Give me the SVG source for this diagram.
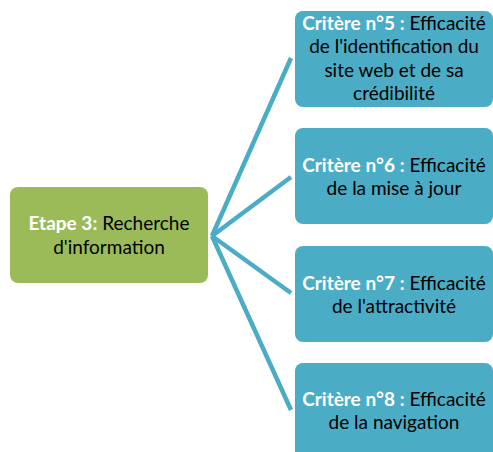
<svg xmlns="http://www.w3.org/2000/svg" width="493" height="452" viewBox="0 0 493 452">
<style>
.blue{fill:#4BACC6;}
.green{fill:#9BBB59;}
.conn{stroke:#4BACC6;stroke-width:4.5;fill:none;}
text{font-family:Lato,"Liberation Sans",Arial,sans-serif;font-size:19px;fill:#000;text-anchor:middle;}
.b{font-weight:bold;fill:#fff;}
</style>
<rect width="493" height="452" fill="#fff"/>
<g id="connectors">
<path class="conn" d="M212,236 L291,58"/>
<path class="conn" d="M212,236 L291,177"/>
<path class="conn" d="M212,236 L291,293"/>
<path class="conn" d="M212,236 L291,410"/>
</g>
<g id="etape3">
<rect class="green" x="10" y="187" width="198" height="96" rx="8"/>
<text x="109" y="230"><tspan class="b">Etape 3:</tspan> Recherche</text>
<text x="109" y="254">d'information</text>
</g>
<g id="critere5">
<rect class="blue" x="295" y="11" width="198" height="96" rx="8"/>
<text x="394" y="30"><tspan class="b">Critère n°5 :</tspan> Efficacité</text>
<text x="394" y="53">de l'identification du</text>
<text x="394" y="77">site web et de sa</text>
<text x="394" y="100">crédibilité</text>
</g>
<g id="critere6">
<rect class="blue" x="295" y="128" width="198" height="96" rx="8"/>
<text x="394" y="172"><tspan class="b">Critère n°6 :</tspan>  Efficacité</text>
<text x="394" y="195">de la mise à jour</text>
</g>
<g id="critere7">
<rect class="blue" x="295" y="246" width="198" height="96" rx="8"/>
<text x="394" y="290"><tspan class="b">Critère n°7 :</tspan> Efficacité</text>
<text x="394" y="313">de l'attractivité</text>
</g>
<g id="critere8">
<rect class="blue" x="295" y="363" width="198" height="96" rx="8"/>
<text x="394" y="406"><tspan class="b">Critère n°8 :</tspan> Efficacité</text>
<text x="394" y="429">de la navigation</text>
</g>
</svg>
